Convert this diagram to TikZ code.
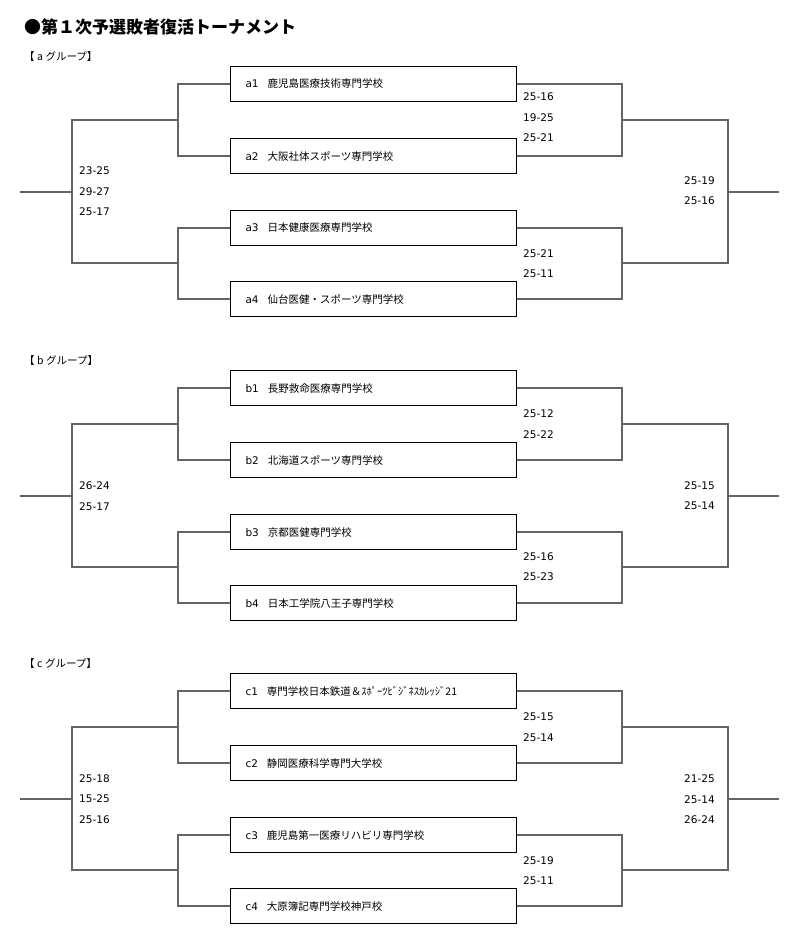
\documentclass[tikz,border=0pt]{standalone}
\usepackage{fontspec}
\setmainfont{DejaVu Sans}
\newfontfamily\jp{Noto Sans CJK JP}
\definecolor{brgray}{RGB}{100,100,100}
\tikzset{
  team/.style={draw=black, line width=1.3pt, minimum width=286pt, minimum height=35pt,
    text width=256pt, inner xsep=15pt, inner ysep=0pt, align=left,
    font=\fontsize{10.5}{12}\selectfont},
  br/.style={draw=brgray, line width=2pt},
  score/.style={anchor=west, inner sep=0pt, align=left, font=\fontsize{10.5}{20.5}\selectfont},
  grplabel/.style={anchor=west, inner sep=0pt, font=\jp\fontsize{10.5}{12}\selectfont},
  titlestyle/.style={anchor=west, inner sep=0pt, font=\jp\bfseries\fontsize{17}{20}\selectfont}
}
\newcommand\grpbracket[6]{%
\begin{scope}[yshift=-#2pt]
  \node[grplabel] (#1lab) at (24,57) {【\hspace{2.5pt}#1\hspace{2.5pt}グループ】};
  \node[team] (#11) at (373.5,84) {#11\hspace{9pt}{\jp #3}};
  \node[team] (#12) at (373.5,156) {#12\hspace{9pt}{\jp #4}};
  \node[team] (#13) at (373.5,228) {#13\hspace{9pt}{\jp #5}};
  \node[team] (#14) at (373.5,299) {#14\hspace{9pt}{\jp #6}};
  \coordinate (#1L12) at (178,120);
  \coordinate (#1L34) at (178,263);
  \coordinate (#1LF) at (72,192);
  \coordinate (#1LS) at (20,192);
  \coordinate (#1R12) at (622,120);
  \coordinate (#1R34) at (622,263);
  \coordinate (#1RF) at (728,192);
  \coordinate (#1RS) at (779,192);
  \draw[br] (#11.west) -| (#1L12) |- (#12.west);
  \draw[br] (#13.west) -| (#1L34) |- (#14.west);
  \draw[br] (#1L12) -| (#1LF) |- (#1L34);
  \draw[br] (#1LF) -- (#1LS);
  \draw[br] (#11.east) -| (#1R12) |- (#12.east);
  \draw[br] (#13.east) -| (#1R34) |- (#14.east);
  \draw[br] (#1R12) -| (#1RF) |- (#1R34);
  \draw[br] (#1RF) -- (#1RS);
\end{scope}}
\begin{document}
\begin{tikzpicture}[x=1pt,y=-1pt]
\useasboundingbox (0,0) rectangle (800,945);
\node[titlestyle] (title) at (24,27) {●第１次予選敗者復活トーナメント};

\grpbracket{a}{0}{鹿児島医療技術専門学校}{大阪社体スポーツ専門学校}{日本健康医療専門学校}{仙台医健・スポーツ専門学校}
\node[score] (aSL) at (79,191.5) {23-25\\29-27\\25-17};
\node[score] (aS12) at (523,117.5) {25-16\\19-25\\25-21};
\node[score] (aS34) at (523,263.5) {25-21\\25-11};
\node[score] (aSR) at (684,190.5) {25-19\\25-16};

\grpbracket{b}{304}{長野救命医療専門学校}{北海道スポーツ専門学校}{京都医健専門学校}{日本工学院八王子専門学校}
\node[score] (bSL) at (79,496) {26-24\\25-17};
\node[score] (bS12) at (523,424) {25-12\\25-22};
\node[score] (bS34) at (523,566.5) {25-16\\25-23};
\node[score] (bSR) at (684,495.5) {25-15\\25-14};

\grpbracket{c}{607}{専門学校日本鉄道＆ｽﾎﾟｰﾂﾋﾞｼﾞﾈｽｶﾚｯｼﾞ21}{静岡医療科学専門大学校}{鹿児島第一医療リハビリ専門学校}{大原簿記専門学校神戸校}
\node[score] (cSL) at (79,799) {25-18\\15-25\\25-16};
\node[score] (cS12) at (523,727) {25-15\\25-14};
\node[score] (cS34) at (523,870.5) {25-19\\25-11};
\node[score] (cSR) at (684,799.5) {21-25\\25-14\\26-24};
\end{tikzpicture}
\end{document}
